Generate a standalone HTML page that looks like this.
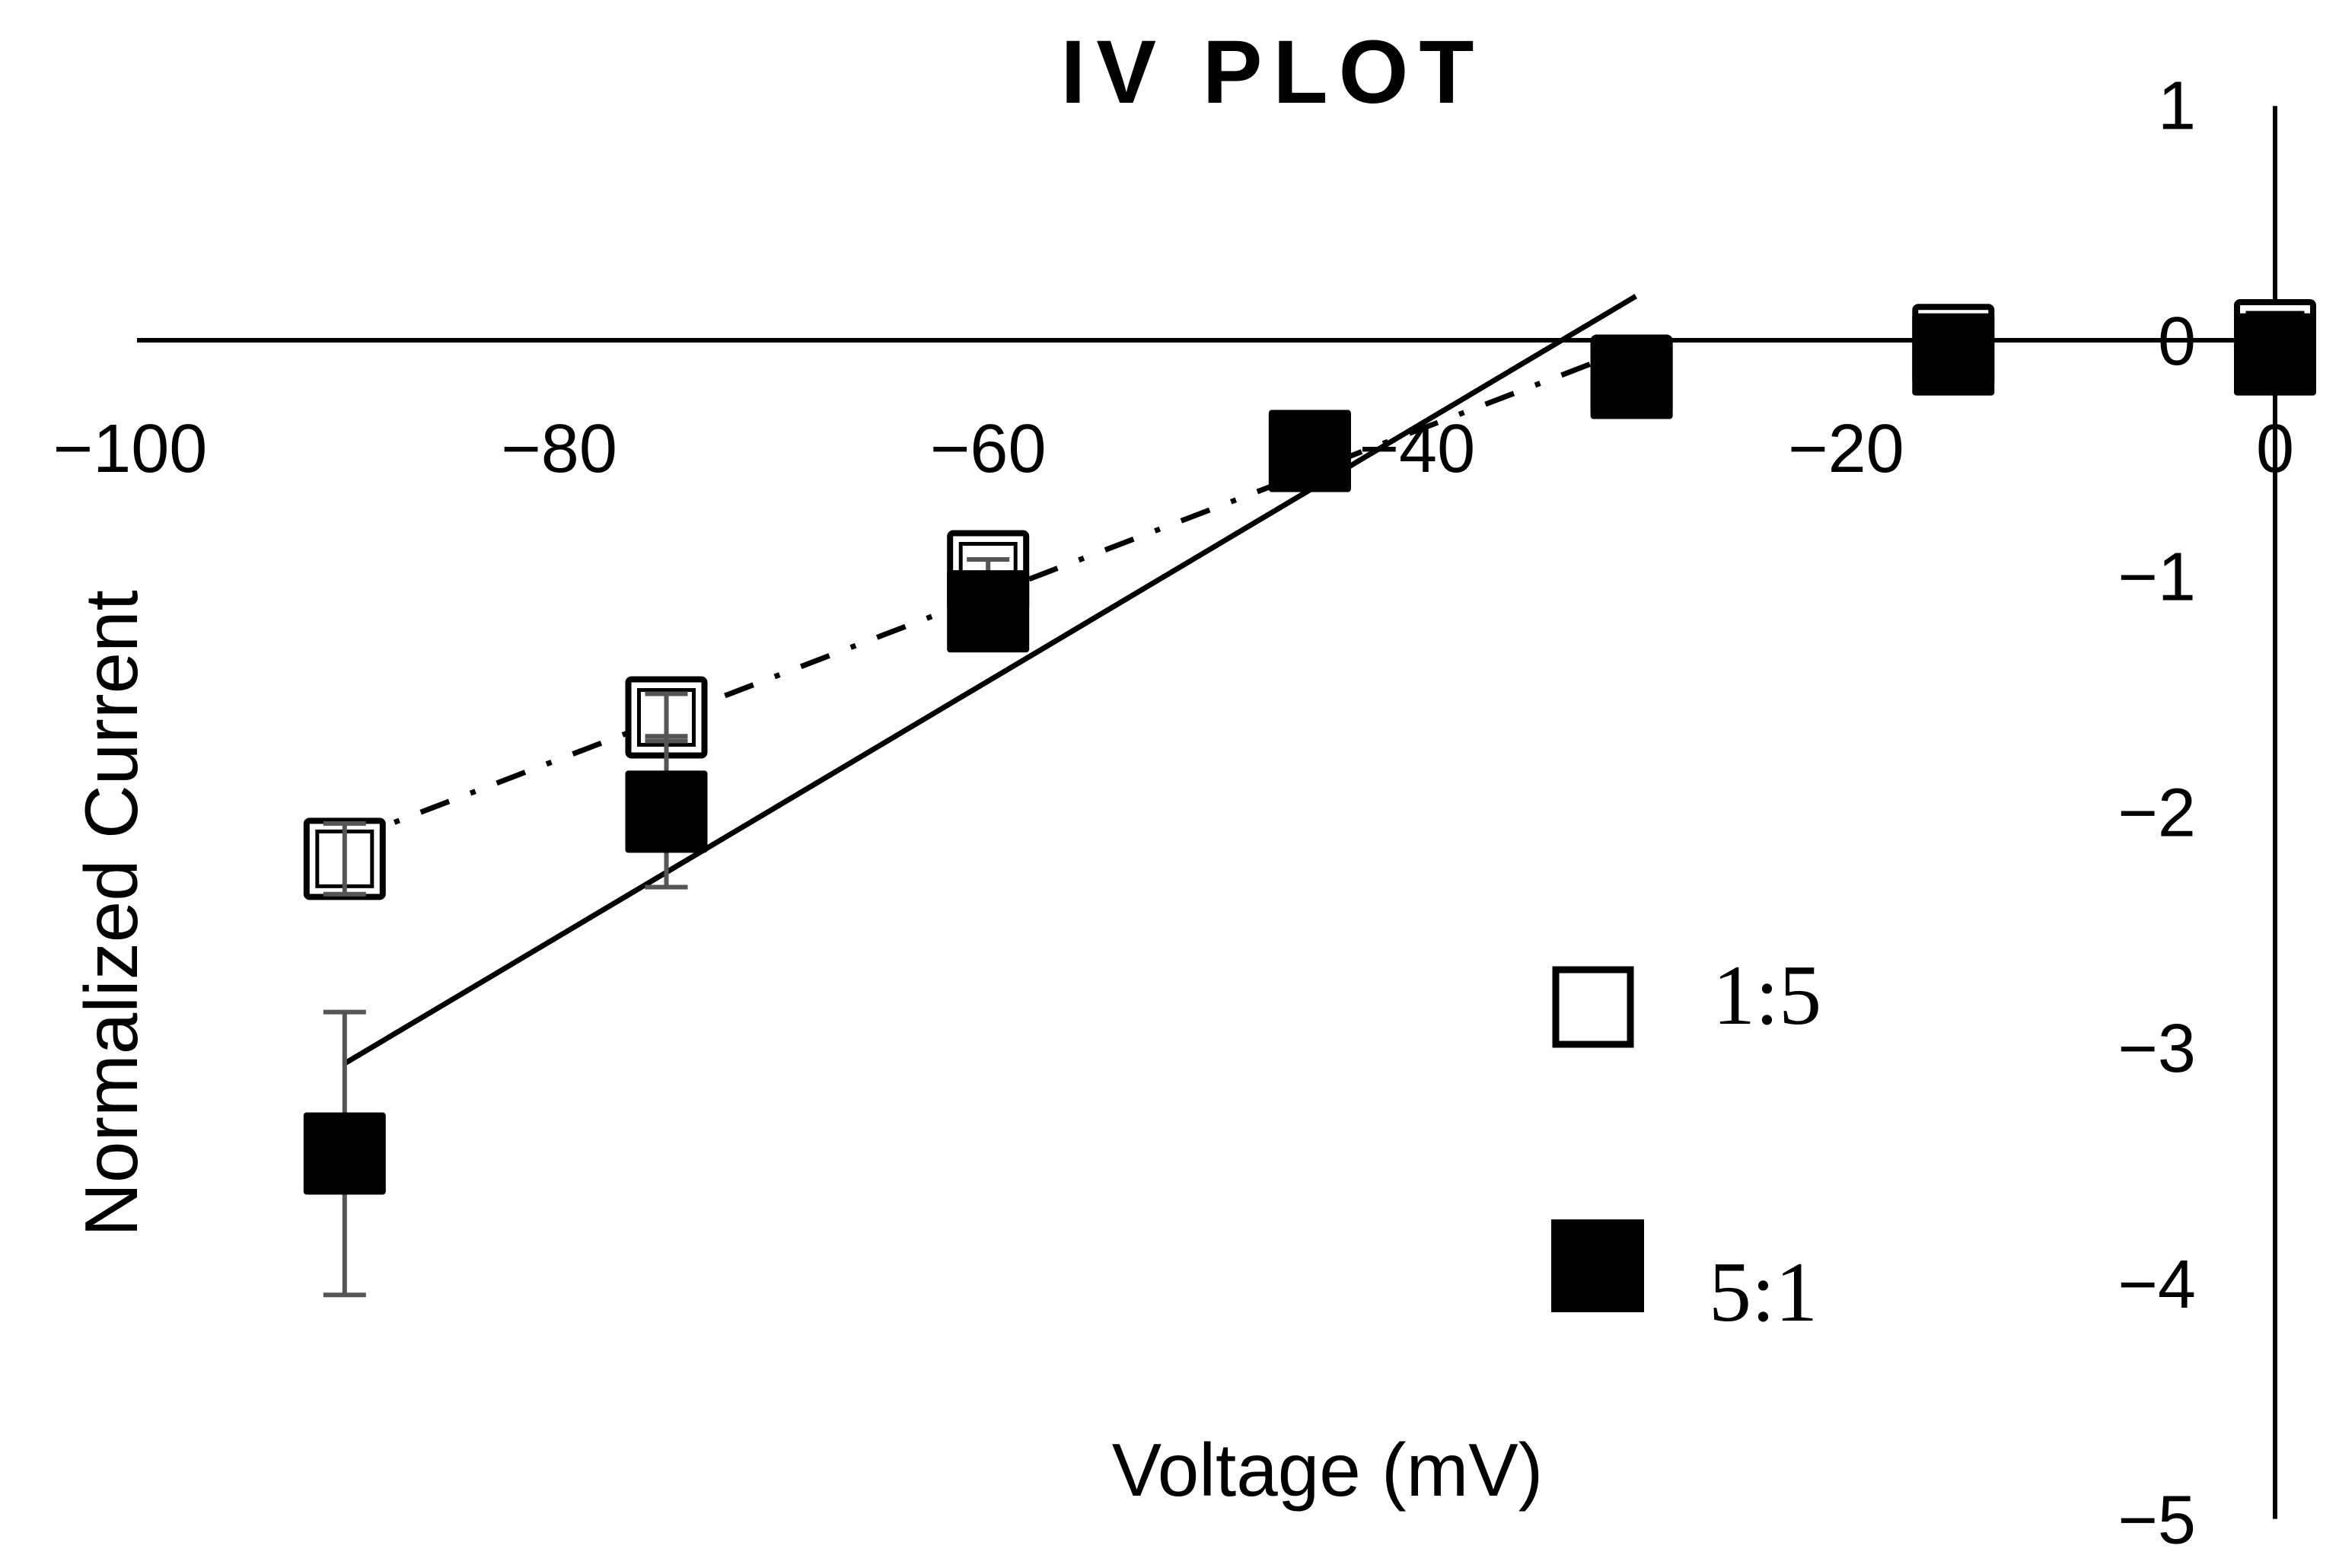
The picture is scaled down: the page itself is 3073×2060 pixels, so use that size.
<!DOCTYPE html>
<html><head><meta charset="utf-8"><style>
html,body{margin:0;padding:0;background:#fff}
svg{display:block}
</style></head><body>
<svg id="chart" width="3073" height="2060" viewBox="0 0 3073 2060" xmlns="http://www.w3.org/2000/svg">
<text x="1672" y="135" text-anchor="middle" font-family="'Liberation Sans',sans-serif" font-weight="bold" font-size="118" letter-spacing="14">IV PLOT</text>
<text x="1744" y="1965" text-anchor="middle" font-family="'Liberation Sans',sans-serif" font-size="98">Voltage (mV)</text>
<text transform="translate(180,1200) rotate(-90)" text-anchor="middle" font-family="'Liberation Sans',sans-serif" font-size="98">Normalized Current</text>
<g id="axes"></g>
<g id="marks"></g>
<g>
  <rect x="2044" y="1274" width="98" height="98" fill="#fff" stroke="#000" stroke-width="9"/>
  <text x="2250" y="1345" font-family="'Liberation Serif',serif" font-size="112">1:5</text>
  <rect x="2038" y="1602" width="122" height="122" fill="#000"/>
  <text x="2245" y="1735" font-family="'Liberation Serif',serif" font-size="112">5:1</text>
</g>
</svg>
<script>
const voltages = [-90, -75, -60, -45, -30, -15, 0];
const current15 = [-2.2, -1.6, -0.98, -0.47, -0.15, -0.02, 0];
const err15 = [0.15, 0.1, 0.05, 0.03, 0.02, 0.01, 0.01];
const current51 = [-3.45, -2.0, -1.15, -0.47, -0.16, -0.06, -0.06];
const err51 = [0.6, 0.32, 0.08, 0.05, 0.03, 0.02, 0.02];
const xTicks = [-100, -80, -60, -40, -20, 0];
const xTickLabels = ["\u2212100", "\u221280", "\u221260", "\u221240", "\u221220", "0"];
const yTicks = [1, 0, -1, -2, -3, -4, -5];
const yTickLabels = ["1", "0", "\u22121", "\u22122", "\u22123", "\u22124", "\u22125"];
const trend51 = [-90, -29.8];
const trend15 = [-90, -31];

const NS = "http://www.w3.org/2000/svg";
function X(v){ return 2989 + v * 28.18; }
function Y(v){ return 447 - v * 309.7; }
function mk(tag, attrs, parent){
  const e = document.createElementNS(NS, tag);
  for (const k in attrs) e.setAttribute(k, attrs[k]);
  parent.appendChild(e);
  return e;
}
function fit(xs, ys){
  const n = xs.length; let sx=0, sy=0, sxx=0, sxy=0;
  for (let i=0;i<n;i++){ sx+=xs[i]; sy+=ys[i]; sxx+=xs[i]*xs[i]; sxy+=xs[i]*ys[i]; }
  const m = (n*sxy - sx*sy)/(n*sxx - sx*sx);
  return [m, (sy - m*sx)/n];
}
const axes = document.getElementById('axes');
const marks = document.getElementById('marks');

const xl = mk('line', {x1:180, y1:Y(0), x2:X(0)+40, y2:Y(0), stroke:'#000', 'stroke-width':6}, axes);


const yl = mk('line', {x1:X(0), y1:Y(1)+2, x2:X(0), y2:Y(-5), stroke:'#000', 'stroke-width':6}, axes);



xTicks.forEach((t, i) => {
  const tx = mk('text', {x:X(t), y:620, 'text-anchor':'middle', 'font-family':"'Liberation Sans',sans-serif", 'font-size':90}, axes);
  tx.textContent = xTickLabels[i];
  
  
});
yTicks.forEach((t, i) => {
  const tx = mk('text', {x:2885, y:Y(t)+32, 'text-anchor':'end', 'font-family':"'Liberation Sans',sans-serif", 'font-size':90}, axes);
  tx.textContent = yTickLabels[i];
  
  
});

const f15 = fit(voltages.slice(0,5), current15.slice(0,5));
const f51 = fit(voltages.slice(0,5), current51.slice(0,5));
const t15 = mk('line', {x1:X(trend15[0]), y1:Y(f15[0]*trend15[0]+f15[1]), x2:X(trend15[1]), y2:Y(f15[0]*trend15[1]+f15[1]), stroke:'#000', 'stroke-width':7, 'stroke-dasharray':'40 30 7 30'}, marks);


const t51 = mk('line', {x1:X(trend51[0]), y1:Y(f51[0]*trend51[0]+f51[1]), x2:X(trend51[1]), y2:Y(f51[0]*trend51[1]+f51[1]), stroke:'#000', 'stroke-width':7}, marks);



function errbar(x, y, e, name){
  const g = mk('g', {stroke:'#555', 'stroke-width':6}, marks);
  
  
  mk('line', {x1:X(x), y1:Y(y+e), x2:X(x), y2:Y(y-e)}, g);
  mk('line', {x1:X(x)-28, y1:Y(y+e), x2:X(x)+28, y2:Y(y+e)}, g);
  mk('line', {x1:X(x)-28, y1:Y(y-e), x2:X(x)+28, y2:Y(y-e)}, g);
}
voltages.forEach((v, i) => {
  const x = X(v), y = Y(current15[i]);
  const r = mk('rect', {x:x-50, y:y-50, width:100, height:100, fill:'#fff', stroke:'#000', 'stroke-width':8, rx:4}, marks);
  
  
  const r2 = mk('rect', {x:x-36, y:y-36, width:72, height:72, fill:'none', stroke:'#000', 'stroke-width':5}, marks);
  
  
  errbar(v, current15[i], err15[i], 'error-bar-1-5');
});
voltages.forEach((v, i) => {
  errbar(v, current51[i], err51[i], 'error-bar-5-1');
  const r = mk('rect', {x:X(v)-54, y:Y(current51[i])-54, width:108, height:108, fill:'#000', rx:4}, marks);
  
  
});
</script>
</body></html>
